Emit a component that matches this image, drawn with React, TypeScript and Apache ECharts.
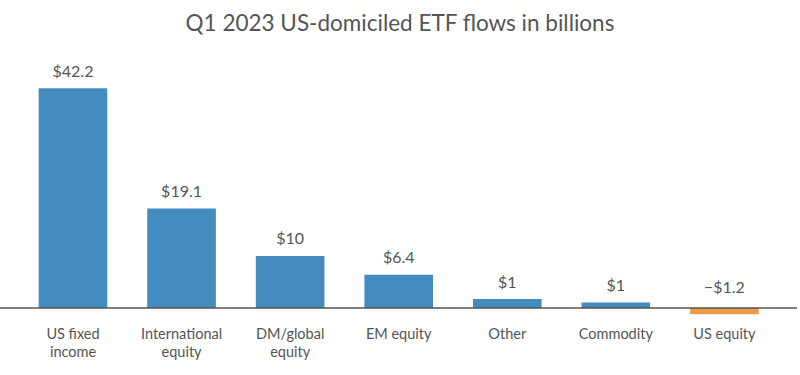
import React, { useEffect, useRef } from "react";
import * as echarts from "echarts";

const categories = [
  "US fixed\nincome",
  "International\nequity",
  "DM/global\nequity",
  "EM equity",
  "Other",
  "Commodity",
  "US equity",
];
const values = [42.2, 19.1, 10, 6.4, 1.7, 1.05, -1.2];
const valueLabels = ["$42.2", "$19.1", "$10", "$6.4", "$1", "$1", "\u2212$1.2"];
const title = "Q1 2023 US-domiciled ETF flows in billions";

const BLUE = "#448cbf";
const ORANGE = "#ea9c45";
const TEXT = "#555555";

export default function App() {
  const ref = useRef<HTMLDivElement>(null);
  useEffect(() => {
    if (!ref.current) return;
    const chart = echarts.init(ref.current, null, { renderer: "svg" });
    chart.setOption({
      animation: false,
      title: {
        text: title,
        left: "center",
        top: 6,
        textStyle: {
          fontFamily: "Lato, 'Open Sans', sans-serif",
          fontSize: 22.5,
          fontWeight: "normal",
          color: TEXT,
        },
      },
      grid: {
        left: 18.7,
        right: 21.3,
        top: 73.7,
        bottom: 41,
        containLabel: false,
        outerBoundsMode: "none",
      },
      xAxis: {
        type: "category",
        data: categories,
        axisLine: { show: false },
        axisTick: { show: false },
        axisLabel: {
          interval: 0,
          margin: -10,
          fontFamily: "Lato, 'Open Sans', sans-serif",
          fontSize: 14.5,
          lineHeight: 18,
          color: TEXT,
        },
      },
      yAxis: {
        type: "value",
        min: -5,
        max: 45,
        show: false,
        splitLine: { show: false },
      },
      series: [
        {
          type: "bar",
          barCategoryGap: "36.8%",
          data: values.map((v, i) => ({
            value: v,
            itemStyle: { color: v < 0 ? ORANGE : BLUE },
            label: {
              show: true,
              position: "top",
              distance: v < 0 ? 13 : 10,
              formatter: () => valueLabels[i],
              fontFamily: "Lato, 'Open Sans', sans-serif",
              fontSize: 16,
              color: TEXT,
            },
          })),
        },
      ],
    });
    const y0 = chart.convertToPixel({ yAxisIndex: 0 }, 0) as number;
    chart.setOption({
      graphic: [
        {
          type: "line",
          shape: { x1: 0, y1: y0, x2: 797, y2: y0 },
          style: { stroke: "#555555", lineWidth: 1.6 },
          z: 10,
        },
      ],
    });
    return () => chart.dispose();
  }, []);
  return <div ref={ref} style={{ width: 800, height: 375, position: "absolute", left: 0, top: 0 }} />;
}
